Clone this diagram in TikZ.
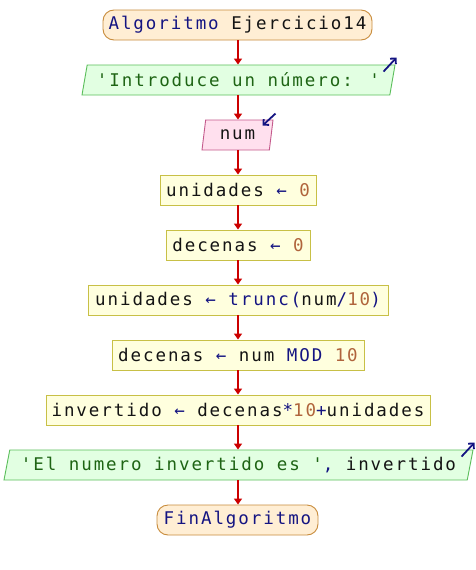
\documentclass[tikz,border=0pt]{standalone}
\usepackage{fontspec}
\usetikzlibrary{shapes.geometric,arrows.meta,calc}
\newfontfamily\codefont{DejaVu Sans Mono}[LetterSpace=11]
\definecolor{kw}{RGB}{20,20,130}
\definecolor{var}{RGB}{20,20,20}
\definecolor{numc}{RGB}{176,100,60}
\definecolor{strc}{RGB}{30,100,20}
\definecolor{flow}{RGB}{204,0,0}
\newcommand{\kw}[1]{\textcolor{kw}{#1}}
\newcommand{\nm}[1]{\textcolor{numc}{#1}}
\newcommand{\st}[1]{\textcolor{strc}{#1}}
\newcommand{\asg}{\kw{←}}
\tikzset{
  x=1pt, y=-1pt,
  base/.style={font=\codefont\fontsize{17.5}{20}\selectfont, text=var, minimum height=30pt, inner sep=0pt, line width=0.9pt},
  terminal/.style={base, rounded corners=11pt, draw={rgb,255:red,200;green,140;blue,60}, fill={rgb,255:red,255;green,238;blue,212}},
  procbox/.style={base, rectangle, draw={rgb,255:red,200;green,192;blue,70}, fill={rgb,255:red,255;green,255;blue,222}},
  para/.style={base, trapezium, trapezium left angle=70, trapezium right angle=110, trapezium stretches body=true},
  outbox/.style={para, draw={rgb,255:red,90;green,190;blue,90}, fill={rgb,255:red,226;green,255;blue,226}},
  inbox/.style={para, draw={rgb,255:red,196;green,90;blue,140}, fill={rgb,255:red,255;green,224;blue,238}},
  flowline/.style={draw=flow, line width=1.6pt, -{Triangle[length=6pt,width=8pt]}},
  ioarrow/.style={draw=kw, line width=1.8pt, -{Straight Barb[length=4pt,width=8pt]}}
}
\begin{document}
\begin{tikzpicture}
\useasboundingbox (0,0) rectangle (476,570);
\fill[white] (0,0) rectangle (476,570);

\node[terminal, minimum width=269pt] (start) at (237.5,25) {\kw{Algoritmo} Ejercicio14};
\node[outbox, minimum width=313pt] (msg) at (238.5,80) {\st{'Introduce un número: '}};
\node[inbox, minimum width=71pt] (read) at (237.5,135) {num};
\node[procbox, minimum width=156pt] (u0) at (238,190) {unidades \asg{} \nm{0}};
\node[procbox, minimum width=144pt] (d0) at (238,245) {decenas \asg{} \nm{0}};
\node[procbox, minimum width=300pt] (u1) at (238,300) {unidades \asg{} \kw{trunc(}num\kw{/}\nm{10}\kw{)}};
\node[procbox, minimum width=252pt] (d1) at (238,355) {decenas \asg{} num \kw{MOD} \nm{10}};
\node[procbox, minimum width=384pt] (inv) at (238,410) {invertido \asg{} decenas\kw{*}\nm{10}\kw{+}unidades};
\node[outbox, minimum width=469pt] (res) at (238.5,465) {\st{'El numero invertido es '}\kw{,} invertido};
\node[terminal, minimum width=161pt] (stop) at (237.5,520) {\kw{FinAlgoritmo}};

% control flow
\foreach \a/\b in {start/msg, msg/read, read/u0, u0/d0, d0/u1, u1/d1, d1/inv, inv/res, res/stop}
  \draw[flowline] (\a.south -| 238,0) -- (\b.north -| 238,0);

% input / output markers at the top right corners
\coordinate (msgA) at ($(msg.top right corner)+(-12,7)$);
\coordinate (msgB) at ($(msg.top right corner)+(1,-7)$);
\draw[ioarrow] (msgA) -- (msgB);
\coordinate (readA) at ($(read.top right corner)+(2,-6)$);
\coordinate (readB) at ($(read.top right corner)+(-11,6)$);
\draw[ioarrow] (readA) -- (readB);
\coordinate (resA) at ($(res.top right corner)+(-12,7)$);
\coordinate (resB) at ($(res.top right corner)+(1,-7)$);
\draw[ioarrow] (resA) -- (resB);
\end{tikzpicture}
\end{document}
